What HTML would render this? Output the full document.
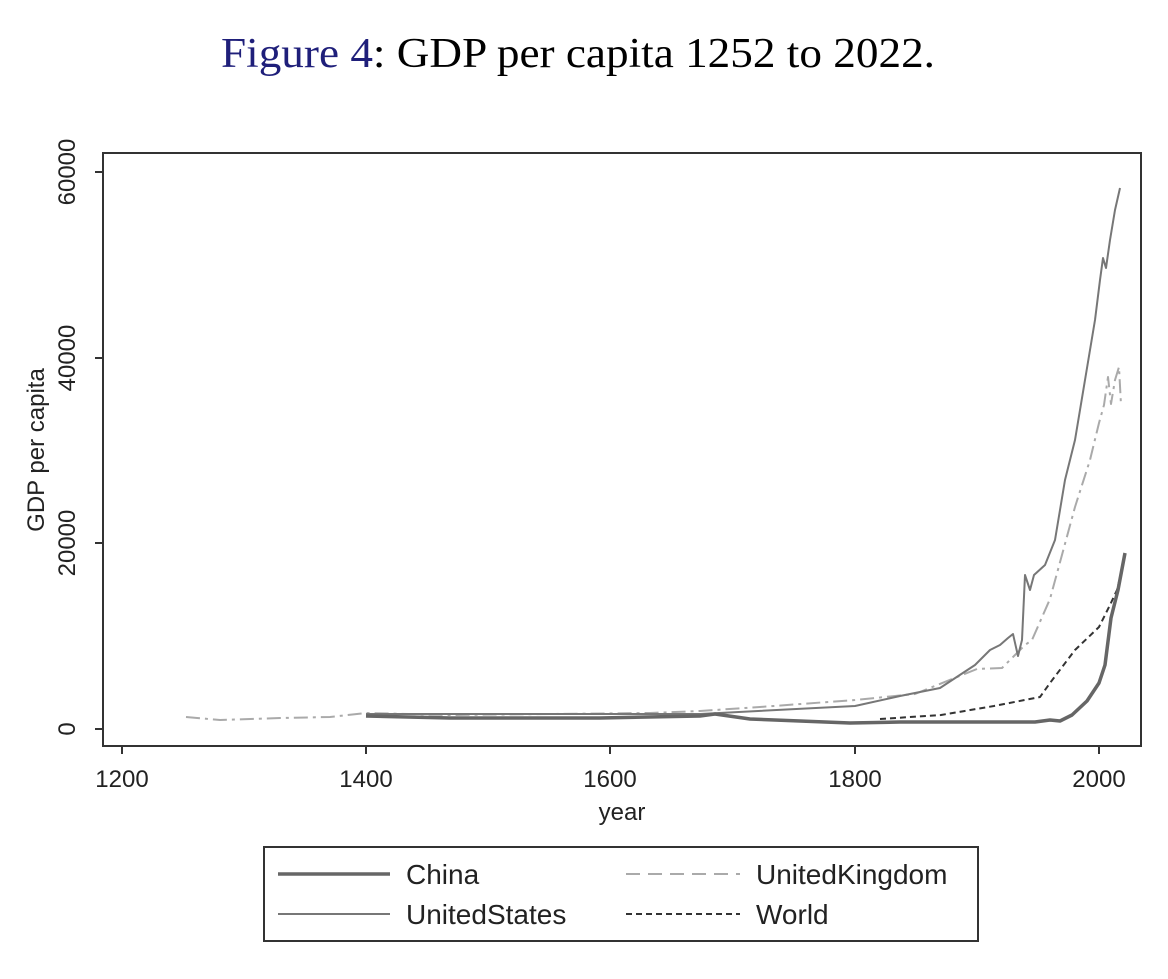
<!DOCTYPE html>
<html><head><meta charset="utf-8"><style>
body{margin:0;background:#fff;width:1168px;height:974px;overflow:hidden}
</style></head><body>
<svg width="1168" height="974" xmlns="http://www.w3.org/2000/svg">
<text x="221" y="67" textLength="714" lengthAdjust="spacingAndGlyphs" font-family="Liberation Serif, serif" font-size="42"><tspan fill="#1f1f7a">Figure 4</tspan>: GDP per capita 1252 to 2022.</text>
<rect x="103" y="153" width="1038" height="593" fill="none" stroke="#333" stroke-width="2"/>
<g stroke="#333" stroke-width="2">
<line x1="95" y1="729" x2="103" y2="729"/><line x1="95" y1="543" x2="103" y2="543"/><line x1="95" y1="358" x2="103" y2="358"/><line x1="95" y1="172" x2="103" y2="172"/>
<line x1="122" y1="746" x2="122" y2="754"/><line x1="366" y1="746" x2="366" y2="754"/><line x1="610" y1="746" x2="610" y2="754"/><line x1="855" y1="746" x2="855" y2="754"/><line x1="1099" y1="746" x2="1099" y2="754"/>
</g>
<g font-family="Liberation Sans, sans-serif" font-size="24" fill="#222">
<text transform="translate(75,729) rotate(-90)" text-anchor="middle">0</text>
<text transform="translate(75,543) rotate(-90)" text-anchor="middle">20000</text>
<text transform="translate(75,358) rotate(-90)" text-anchor="middle">40000</text>
<text transform="translate(75,172) rotate(-90)" text-anchor="middle">60000</text>
<text transform="translate(44,450) rotate(-90)" text-anchor="middle">GDP per capita</text>
<text x="122" y="787" text-anchor="middle">1200</text>
<text x="366" y="787" text-anchor="middle">1400</text>
<text x="610" y="787" text-anchor="middle">1600</text>
<text x="855" y="787" text-anchor="middle">1800</text>
<text x="1099" y="787" text-anchor="middle">2000</text>
<text x="622" y="820" text-anchor="middle">year</text>
</g>
<g fill="none" stroke-linejoin="round">
<path stroke="#aaa" stroke-width="2" stroke-dasharray="14,5,3,5" d="M186,717 L220,720 L280,718 L330,717 L366,713 L450,715 L550,714 L650,713 L700,711 L760,707 L855,700 L915,694 L977,669 L1002,668 L1015,655 L1025,645 L1032,640 L1050,599 L1075,507 L1090,460 L1099,423 L1104,405 L1108,377 L1111,404 L1115,380 L1119,367 L1121,405"/>
<path stroke="#777" stroke-width="2" d="M366,714 L600,714 L700,714 L855,706 L900,696 L940,688 L975,665 L990,650 L1000,645 L1008,638 L1013,634 L1018,656 L1022,640 L1025,575 L1030,590 L1034,575 L1045,565 L1055,540 L1065,480 L1075,440 L1085,380 L1095,320 L1100,280 L1103,258 L1106,268 L1110,240 L1115,210 L1120,188"/>
<path stroke="#333" stroke-width="2" stroke-dasharray="6,4" d="M880,719 L941,715 L994,706 L1040,697 L1050,683 L1075,650 L1099,627 L1110,605 L1117,590 L1122,570"/>
<path stroke="#666" stroke-width="3.5" d="M366,716 L450,718 L600,718 L700,716 L715,714 L750,719 L800,721 L850,723 L900,722 L1035,722 L1050,720 L1060,721 L1072,715 L1087,701 L1099,683 L1105,665 L1111,618 L1118,590 L1125,553"/>
</g>
<rect x="264" y="847" width="714" height="94" fill="none" stroke="#333" stroke-width="2"/>
<line x1="278" y1="874" x2="390" y2="874" stroke="#666" stroke-width="3.5"/>
<line x1="278" y1="914" x2="390" y2="914" stroke="#777" stroke-width="2"/>
<line x1="626" y1="874" x2="740" y2="874" stroke="#aaa" stroke-width="2" stroke-dasharray="14,8"/>
<line x1="626" y1="914" x2="740" y2="914" stroke="#333" stroke-width="2" stroke-dasharray="6,4"/>
<g font-family="Liberation Sans, sans-serif" font-size="28" fill="#222">
<text x="406" y="884">China</text>
<text x="406" y="924">UnitedStates</text>
<text x="756" y="884">UnitedKingdom</text>
<text x="756" y="924">World</text>
</g>
</svg>
</body></html>
